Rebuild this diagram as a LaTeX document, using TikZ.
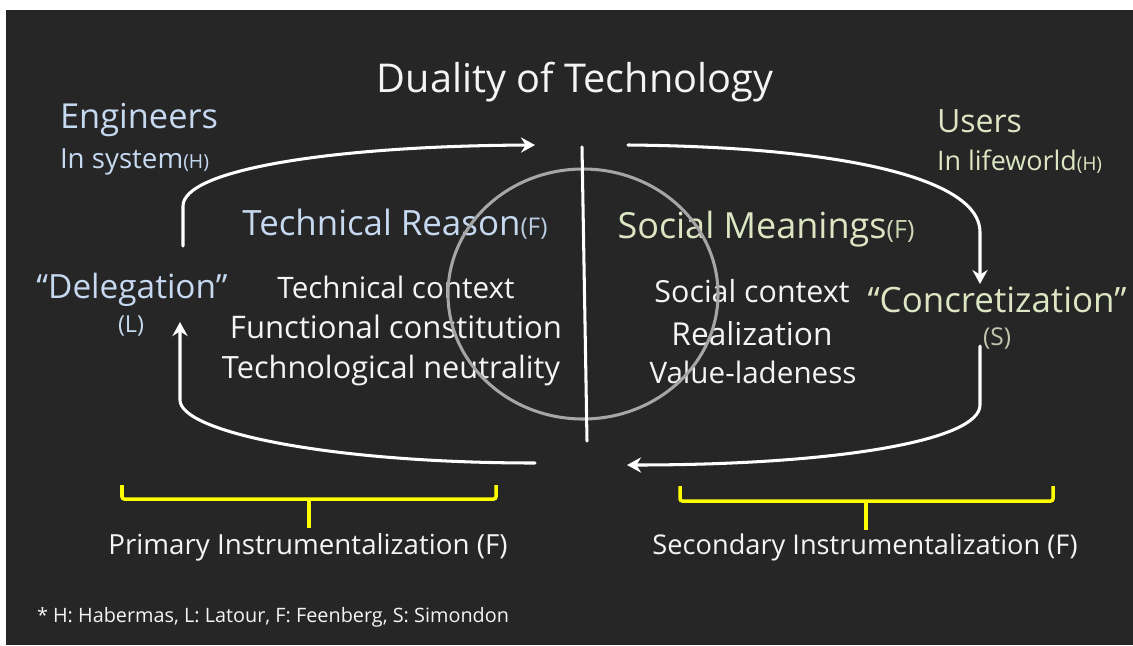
\documentclass[tikz,border=0pt]{standalone}
\usepackage{fontspec}
\setmainfont{Open Sans}
\usepackage{graphicx}
\usetikzlibrary{arrows.meta}

% one drawing unit = one "pixel" of the board
\newlength\px
\setlength\px{0.03cm}
% set a text line to a given width (in board units)
\newcommand\fitw[2]{\resizebox{#1\px}{!}{#2}}
% small source letter after a term, e.g. (F)
\newcommand\srcref[1]{\scalebox{0.7}{#1}}

\definecolor{board}{HTML}{262626}
\definecolor{chalk}{HTML}{F4F4F4}
\definecolor{paleblue}{HTML}{C6D9F1}
\definecolor{palegreen}{HTML}{DCE6C2}
\definecolor{ringgray}{HTML}{A6A6A6}
\definecolor{braceyellow}{HTML}{FFFF00}

\begin{document}
\begin{tikzpicture}[x=0.03cm,y=-0.03cm,
  lbl/.style={inner sep=0pt, outer sep=0pt, text=chalk, anchor=base},
  lblw/.style={lbl, anchor=base west},
  flow/.style={draw=white, line width=2.6pt, line cap=round,
    -{Stealth[length=12pt, width=13pt, inset=4pt]}},
  plain/.style={draw=white, line width=2.6pt, line cap=round},
  bracket/.style={draw=braceyellow, line width=3pt, rounded corners=2pt}]

% board and margins
\useasboundingbox (0,0) rectangle (1133,645);
\fill[white] (0,0) rectangle (1133,645);
\fill[board] (6,10) rectangle (1133,645);

% title
\node[lbl] (title) at (575,92) {\fitw{396}{Duality of Technology}};

% actors
\node[lblw, text=paleblue] (eng) at (60,128) {\fitw{158}{Engineers}};
\node[lblw, text=paleblue] (engsub) at (60,168) {\fitw{149}{In system\srcref{(H)}}};
\node[lblw, text=palegreen] (users) at (937,132) {\fitw{85}{Users}};
\node[lblw, text=palegreen] (usersub) at (937,170) {\fitw{165}{In lifeworld\srcref{(H)}}};

% the two sides of the duality
\node[lbl, text=paleblue] (treason) at (395,235) {\fitw{305}{Technical Reason\textcolor{paleblue!85!gray}{\srcref{(F)}}}};
\node[lbl, text=palegreen] (smean) at (766,238) {\fitw{297}{Social Meanings\textcolor{palegreen!85!gray}{\srcref{(F)}}}};

\node[lbl] (tc1) at (396,298) {\fitw{237}{Technical context}};
\node[lbl] (tc2) at (396,338) {\fitw{332}{Functional constitution}};
\node[lbl] (tc3) at (391,378) {\fitw{338}{Technological neutrality}};

\node[lbl] (sc1) at (752,302) {\fitw{195}{Social context}};
\node[lbl] (sc2) at (752,345) {\fitw{161}{Realization}};
\node[lbl] (sc3) at (753,383) {\fitw{207}{Value-ladeness}};

% delegation / concretization
\node[lbl, text=paleblue] (deleg) at (132,298) {\fitw{191}{“Delegation”}};
\node[lbl, text=paleblue] (delegref) at (131,332) {\fitw{26}{(L)}};
\node[lbl, text=palegreen] (concr) at (997,312) {\fitw{259}{“Concretization”}};
\node[lbl, text=palegreen!70!gray] (concrref) at (997,345) {\fitw{28}{(S)}};

% ring and divider
\draw[ringgray, line width=2.6pt] (583,294) ellipse [x radius=135, y radius=125];
\coordinate (divtop) at (582,147);
\coordinate (divbot) at (587,441);
\draw[plain] (divtop) -- (divbot);

% cycle of arrows
\coordinate (tlS) at (183,246);
\coordinate (tlE) at (535,145);
\coordinate (trS) at (628,145);
\coordinate (trE) at (980,284);
\coordinate (brS) at (980,346);
\coordinate (brE) at (627,465);
\coordinate (blS) at (535,463);
\coordinate (blE) at (180,322);

\draw[flow] (tlS) -- (183,206) .. controls (183,170) and (330,146) .. (tlE);
\draw[flow] (trS) .. controls (850,147) and (980,180) .. (980,232) -- (trE);
\draw[flow] (brS) -- (980,405) .. controls (980,440) and (840,465) .. (brE);
\draw[flow] (blS) .. controls (330,463) and (180,432) .. (180,400) -- (blE);

% instrumentalization brackets
\draw[bracket] (122,485) -- (122,499) -- (496,499) -- (496,485);
\draw[bracket] (309,499) -- (309,528);
\draw[bracket] (680,486) -- (680,501) -- (1053,501) -- (1053,486);
\draw[bracket] (866,501) -- (866,530);

\node[lbl] (prim) at (308,554) {\fitw{399}{Primary Instrumentalization (F)}};
\node[lbl] (sec) at (865,554) {\fitw{425}{Secondary Instrumentalization (F)}};

% footnote
\node[lblw] (note) at (37,622) {\fitw{472}{* H: Habermas, L: Latour, F: Feenberg, S: Simondon}};

\end{tikzpicture}
\end{document}
